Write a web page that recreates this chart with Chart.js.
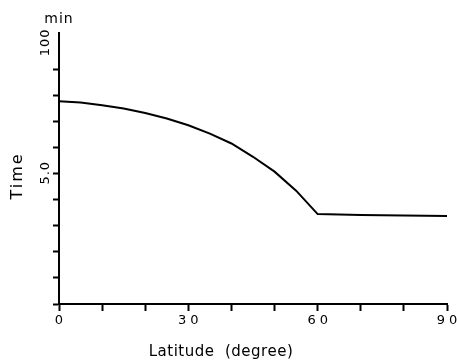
<!DOCTYPE html>
<html lang="en">
  <head>
    <meta charset="UTF-8" />
    <title>Time vs Latitude</title>
    <script src="https://cdn.jsdelivr.net/npm/chart.js"></script>
    <style>
      html, body { margin: 0; padding: 0; background: #fff; }
      #wrap { width: 457px; height: 363px; }
    </style>
  </head>
  <body>
    <div id="wrap"><canvas id="timeChart" width="457" height="363"></canvas></div>

    <script>
      const latitude = [0, 5, 10, 15, 20, 25, 30, 35, 40, 45, 50, 55, 60, 70, 80, 90];
      const timeMin = [77.8, 77.3, 76.3, 75.0, 73.3, 71.2, 68.6, 65.4, 61.6, 56.5, 50.8, 43.5, 34.5, 34.2, 34.0, 33.8];
      const xTickValues = [0, 30, 60, 90];
      const xTickLabels = ["0", "30", "60", "90"];
      const yTickValues = [50, 100];
      const yTickLabels = ["5.0", "100"];

      const FONT = "'DejaVu Sans', sans-serif";

      const textPlugin = {
        id: "textPlugin",
        afterDraw(chart) {
          const ctx = chart.ctx;
          const xs = chart.scales.x;
          const ys = chart.scales.y;
          ctx.save();
          ctx.fillStyle = "#000";
          ctx.textAlign = "center";
          ctx.textBaseline = "middle";

          // x tick labels
          ctx.font = "13px " + FONT;
          ctx.letterSpacing = "4px";
          xTickValues.forEach((v, i) => {
            ctx.fillText(xTickLabels[i], xs.getPixelForValue(v) + 2, 321);
          });

          // y tick labels, rotated
          yTickValues.forEach((v, i) => {
            ctx.save();
            ctx.translate(46, ys.getPixelForValue(v) - 1);
            ctx.rotate(-Math.PI / 2);
            ctx.letterSpacing = "1px";
            ctx.fillText(yTickLabels[i], 0, 0);
            ctx.restore();
          });

          // unit above the axis
          ctx.letterSpacing = "1px";
          ctx.font = "14px " + FONT;
          ctx.fillText("min", 59, 19);

          // y title
          ctx.save();
          ctx.translate(18, 176);
          ctx.rotate(-Math.PI / 2);
          ctx.font = "16px " + FONT;
          ctx.letterSpacing = "2px";
          ctx.fillText("Time", 0, 0);
          ctx.restore();

          // x title
          ctx.font = "15px " + FONT;
          ctx.letterSpacing = "0.5px";
          ctx.fillText("Latitude  (degree)", 221, 352);
          ctx.restore();
        },
      };

      new Chart(document.getElementById("timeChart"), {
        type: "scatter",
        data: {
          datasets: [
            {
              data: latitude.map((x, i) => ({ x: x, y: timeMin[i] })),
              showLine: true,
              borderColor: "#000",
              borderWidth: 2,
              pointRadius: 0,
              tension: 0,
              fill: false,
            },
          ],
        },
        options: {
          responsive: false,
          animation: false,
          layout: { padding: { left: 0, right: 10, top: 33, bottom: 0 } },
          plugins: { legend: { display: false }, tooltip: { enabled: false } },
          scales: {
            x: {
              type: "linear",
              min: 0,
              max: 90,
              afterFit(scale) { scale.height = 59; },
              ticks: { stepSize: 10, display: false },
              grid: {
                drawOnChartArea: false,
                drawTicks: true,
                tickLength: 7,
                tickColor: "#000",
                tickWidth: 2,
              },
              border: { display: true, color: "#000", width: 2 },
            },
            y: {
              type: "linear",
              min: 0,
              max: 104,
              afterBuildTicks(scale) {
                scale.ticks = scale.ticks.filter((t) => t.value % 10 === 0);
              },
              afterFit(scale) { scale.width = 59; },
              ticks: { stepSize: 10, display: false },
              grid: {
                drawOnChartArea: false,
                drawTicks: true,
                tickLength: 6,
                tickColor: "#000",
                tickWidth: 2,
              },
              border: { display: true, color: "#000", width: 2 },
            },
          },
        },
        plugins: [textPlugin],
      });
    </script>
  </body>
</html>
